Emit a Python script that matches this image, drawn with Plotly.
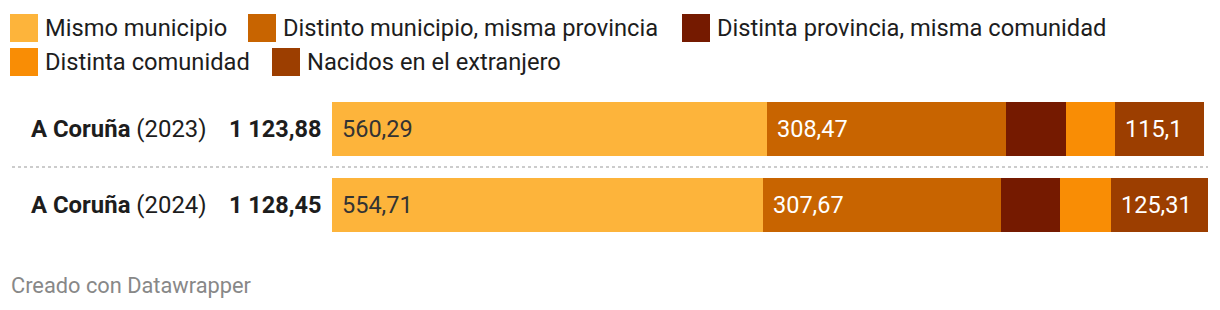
import plotly.graph_objects as go

# ---------------- data ----------------
places = ["A Coruña", "A Coruña"]
years = ["2023", "2024"]
categories = ["A Coruña (2023)", "A Coruña (2024)"]
totals = [1123.88, 1128.45]

series_names = [
    "Mismo municipio",
    "Distinto municipio, misma provincia",
    "Distinta provincia, misma comunidad",
    "Distinta comunidad",
    "Nacidos en el extranjero",
]
mismo_municipio = [560.29, 554.71]
distinto_municipio = [308.47, 307.67]
distinta_provincia = [76.8, 75.5]
distinta_comunidad = [63.22, 65.26]
extranjero = [115.1, 125.31]
show_label = [True, True, False, False, True]

series_values = [mismo_municipio, distinto_municipio, distinta_provincia,
                 distinta_comunidad, extranjero]
colors = ["#fdb43b", "#c86400", "#751a00", "#f98d05", "#9c3e00"]
label_colors = ["#333333", "#ffffff", "#ffffff", "#ffffff", "#ffffff"]

# ---------------- layout geometry (pixels) ----------------
W, H = 1220, 310
L, R, T, B = 332, 12, 91, 67
PW, PH = W - L - R, H - T - B


def px_x(px):
    return (px - L) / PW


def px_y(py):
    return (H - B - py) / PH


def fmt(v):
    s = ("%.2f" % v).rstrip("0").rstrip(".")
    ip, _, dp = s.partition(".")
    groups = []
    while len(ip) > 3:
        groups.insert(0, ip[-3:])
        ip = ip[:-3]
    groups.insert(0, ip)
    return " ".join(groups) + ("," + dp if dp else "")


FONT = "Roboto, 'Open Sans', sans-serif"
FS = 23.5
FS_LEG = 23.7
fig = go.Figure()

for name, vals, col in zip(series_names, series_values, colors):
    fig.add_trace(go.Bar(
        y=categories, x=vals, name=name, orientation="h",
        marker=dict(color=col, line=dict(width=0)),
        showlegend=False, hoverinfo="skip",
    ))

annotations = []
shapes = []

# value labels inside segments
for i, cat in enumerate(categories):
    start = 0.0
    for s, vals in enumerate(series_values):
        if show_label[s]:
            annotations.append(dict(
                x=start, y=cat, xref="x", yref="y", text=fmt(vals[i]),
                showarrow=False, xanchor="left", yanchor="middle", xshift=8,
                font=dict(family=FONT, size=FS, color=label_colors[s]),
            ))
        start += vals[i]

# row labels and totals
for i, cat in enumerate(categories):
    annotations.append(dict(
        x=px_x(209), y=cat, xref="paper", yref="y",
        text="<b>%s</b> (%s)" % (places[i], years[i]),
        showarrow=False, xanchor="right", yanchor="middle",
        font=dict(family=FONT, size=23.9, color="#1d1d1d"),
    ))
    annotations.append(dict(
        x=px_x(324), y=cat, xref="paper", yref="y",
        text="<b>%s</b>" % fmt(totals[i]),
        showarrow=False, xanchor="right", yanchor="middle",
        font=dict(family=FONT, size=FS, color="#1d1d1d"),
    ))

# dotted separator
shapes.append(dict(
    type="line", xref="paper", yref="y", x0=px_x(12), x1=px_x(1208),
    y0=0.5, y1=0.5, line=dict(color="#cccccc", width=2, dash="dot"),
))

# custom legend
legend_pos = [(10, 14), (248, 14), (682, 14), (10, 48), (272, 48)]
for (lx, ly), name, col in zip(legend_pos, series_names, colors):
    shapes.append(dict(
        type="rect", xref="paper", yref="paper",
        x0=px_x(lx), x1=px_x(lx + 28), y0=px_y(ly), y1=px_y(ly + 28),
        fillcolor=col, line=dict(width=0),
    ))
    annotations.append(dict(
        x=px_x(lx + 33), y=px_y(ly + 14), xref="paper", yref="paper",
        text=name, showarrow=False, xanchor="left", yanchor="middle",
        font=dict(family=FONT, size=FS_LEG, color="#1d1d1d"),
    ))

# footer
annotations.append(dict(
    x=px_x(9), y=px_y(285), xref="paper", yref="paper",
    text="Creado con Datawrapper", showarrow=False,
    xanchor="left", yanchor="middle",
    font=dict(family=FONT, size=21.8, color="#888888"),
))

fig.update_layout(
    barmode="stack", bargap=1 - 54 / 76,
    width=W, height=H,
    margin=dict(l=L, r=R, t=T, b=B, pad=0),
    paper_bgcolor="white", plot_bgcolor="white",
    xaxis=dict(range=[0, totals[1]], visible=False, fixedrange=True),
    yaxis=dict(autorange="reversed", visible=False, fixedrange=True),
    annotations=annotations, shapes=shapes,
    font=dict(family=FONT),
)

fig.write_html("out.html", config={"displayModeBar": False})
